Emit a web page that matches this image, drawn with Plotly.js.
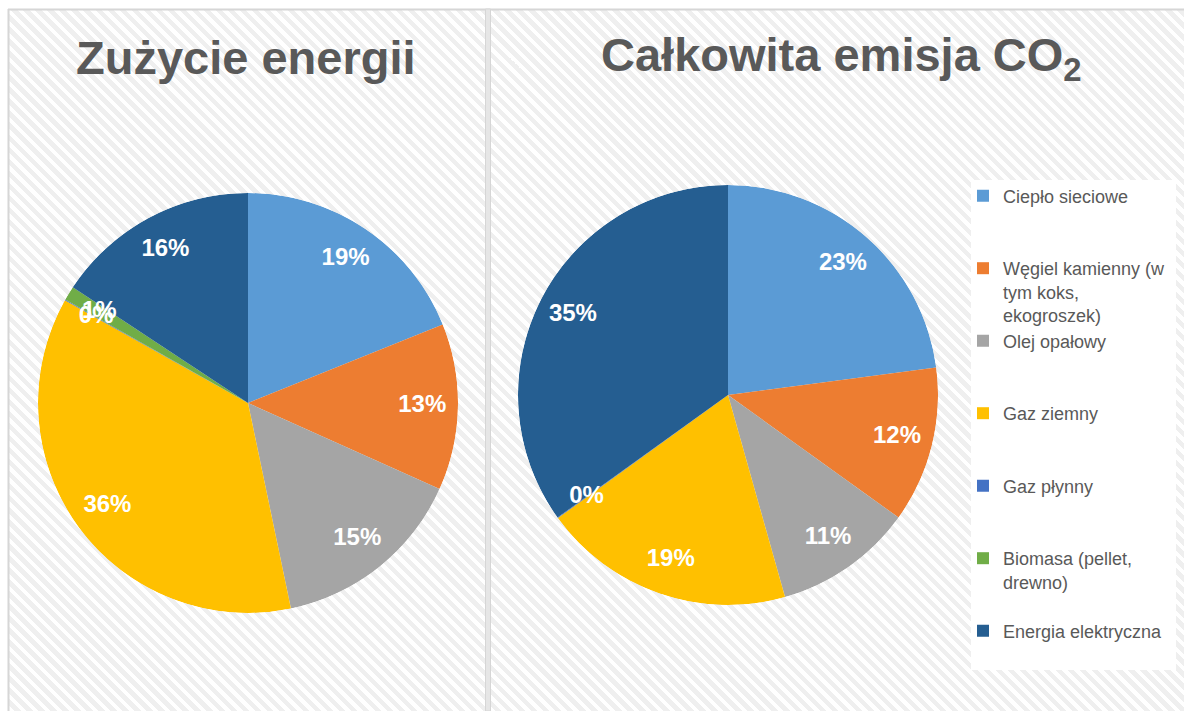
<!DOCTYPE html>
<html>
<head>
<meta charset="utf-8">
<script src="https://cdn.plot.ly/plotly-3.0.1.min.js"></script>
<style>
  html, body { margin: 0; padding: 0; background: #fff; }
  #wrap { position: relative; width: 1184px; height: 711px; overflow: hidden; }
  #hatch {
    position: absolute; left: 9px; top: 10px; right: 0; bottom: 0;
    background: repeating-linear-gradient(45deg, #ffffff 0px, #ffffff 4px, #efefef 4px, #efefef 8.5px);
  }
  #chart { position: absolute; left: 0; top: 0; width: 1184px; height: 711px; }
</style>
</head>
<body>
<div id="wrap">
  <div id="hatch"></div>
  <div id="chart"></div>
</div>
<script>
const W = 1184, H = 711;

// categories (legend labels, wrapped as in the original)
const categories = [
  'Ciepło sieciowe',
  'Węgiel kamienny (w<br>tym koks,<br>ekogroszek)',
  'Olej opałowy',
  'Gaz ziemny',
  'Gaz płynny',
  'Biomasa (pellet,<br>drewno)',
  'Energia elektryczna'
];
// shares, in %
const energyUse = [18.9, 12.8, 15.0, 36.4, 0.05, 1.1, 15.7];
const co2Emission = [22.9, 12.0, 10.7, 19.4, 0.05, null, 34.9];

const sliceColors = ['#5B9BD5', '#ED7D31', '#A5A5A5', '#FFC000', '#4472C4', '#70AD47', '#255E91'];
const textColor = '#595959';
const font = 'Liberation Sans, Arial, sans-serif';

function px(x) { return x / W; }
function py(y) { return 1 - y / H; }

function legendId(i) { return i === 0 ? 'legend' : 'legend' + (i + 1); }

function pieTraces(values, polarId, withLegend) {
  const total = values.reduce((s, v) => s + (v || 0), 0);
  const traces = [];
  const textTheta = [], textLabels = [];
  let acc = 0;
  values.forEach((v, i) => {
    if (v === null) return;
    const span = v / total * 360;
    const mid = acc + span / 2;
    acc += span;
    traces.push({
      type: 'barpolar',
      subplot: polarId,
      name: categories[i],
      legend: legendId(i),
      legendgroup: 'c' + i,
      showlegend: withLegend,
      r: [1],
      theta: [mid],
      width: [span],
      marker: { color: sliceColors[i], line: { width: 0 } },
      hoverinfo: 'skip'
    });
    textTheta.push(mid);
    textLabels.push(Math.round(v / total * 100) + '%');
  });
  traces.push({
    type: 'scatterpolar',
    subplot: polarId,
    mode: 'text',
    r: textTheta.map(() => 0.83),
    theta: textTheta,
    text: textLabels,
    textfont: { family: font, size: 24, color: '#ffffff', weight: 700 },
    showlegend: false,
    hoverinfo: 'skip'
  });
  return traces;
}

const data = [].concat(
  pieTraces(energyUse, 'polar', true),
  pieTraces(co2Emission, 'polar2', false)
);

function polarLayout(x0, x1, y0, y1) {
  return {
    domain: { x: [px(x0), px(x1)], y: [py(y1), py(y0)] },
    bgcolor: 'rgba(0,0,0,0)',
    bargap: 0,
    barmode: 'overlay',
    radialaxis: { range: [0, 1], visible: false },
    angularaxis: {
      rotation: 90, direction: 'clockwise', visible: false,
      showgrid: false, showline: false, showticklabels: false, ticks: ''
    }
  };
}

const lineColor = '#d6d6d6';

const layout = {
  width: W,
  height: H,
  margin: { l: 0, r: 0, t: 0, b: 0 },
  paper_bgcolor: 'rgba(0,0,0,0)',
  plot_bgcolor: 'rgba(0,0,0,0)',
  showlegend: true,
  font: { family: font, color: textColor },
  polar: polarLayout(38, 458, 193, 613),
  polar2: polarLayout(518, 938, 185, 605),
  annotations: [
    {
      text: 'Zużycie energii',
      x: px(246), y: py(58), xref: 'paper', yref: 'paper',
      xanchor: 'center', yanchor: 'middle', showarrow: false,
      font: { family: font, size: 47, color: textColor, weight: 700 }
    },
    {
      text: 'Całkowita emisja CO<sub>2</sub>',
      x: px(841), y: py(58), xref: 'paper', yref: 'paper',
      xanchor: 'center', yanchor: 'middle', showarrow: false,
      font: { family: font, size: 47, color: textColor, weight: 700 }
    }
  ],
  shapes: [
    // legend box
    { type: 'rect', xref: 'paper', yref: 'paper', layer: 'below',
      x0: px(971), x1: px(1176), y0: py(670), y1: py(180),
      fillcolor: '#ffffff', line: { width: 0 } },
    // frame
    { type: 'line', xref: 'paper', yref: 'paper',
      x0: px(8), x1: 1, y0: py(9.5), y1: py(9.5),
      line: { color: lineColor, width: 2 } },
    { type: 'line', xref: 'paper', yref: 'paper',
      x0: px(8.5), x1: px(8.5), y0: py(9), y1: 0,
      line: { color: lineColor, width: 2 } },
    { type: 'rect', xref: 'paper', yref: 'paper',
      x0: px(485.5), x1: px(490.5), y0: 0, y1: py(9),
      fillcolor: '#e6e6e6', line: { color: lineColor, width: 1 } }
  ]
};

// one legend per category so the entries keep the original even spacing
categories.forEach((c, i) => {
  layout[legendId(i)] = {
    x: px(963), xanchor: 'left',
    y: py(177.5 + i * 72.5), yanchor: 'top',
    valign: 'top',
    bgcolor: 'rgba(0,0,0,0)',
    font: { family: font, size: 18, color: textColor },
    itemclick: false,
    itemdoubleclick: false
  };
});

Plotly.newPlot('chart', data, layout, { displayModeBar: false, staticPlot: true });
</script>
</body>
</html>
